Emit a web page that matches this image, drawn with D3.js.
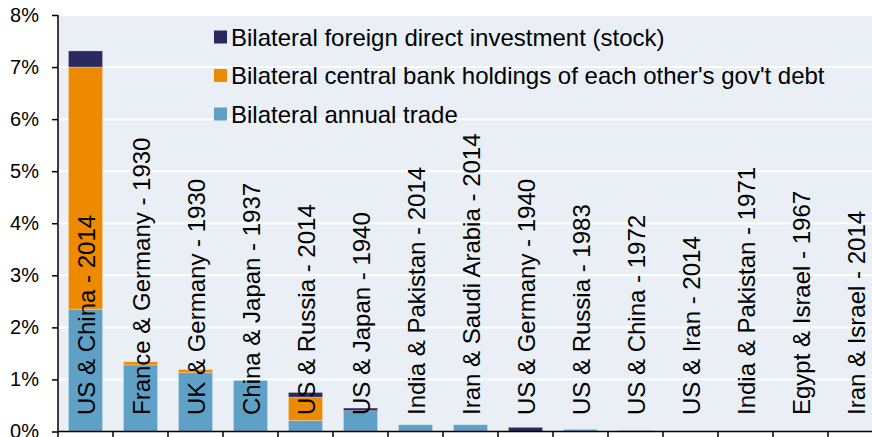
<!DOCTYPE html>
<html><head><meta charset="utf-8">
<script src="https://cdn.jsdelivr.net/npm/d3@7/dist/d3.min.js"></script>
<style>body{margin:0;background:#fff}svg{display:block;font-family:"Liberation Sans",Arial,sans-serif}</style>
</head><body><svg id="c" width="872" height="437"></svg>
<script>
const categories = ["US & China - 2014","France & Germany - 1930","UK & Germany - 1930","China & Japan - 1937","US & Russia - 2014","US & Japan - 1940","India & Pakistan - 2014","Iran & Saudi Arabia - 2014","US & Germany - 1940","US & Russia - 1983","US & China - 1972","US & Iran - 2014","India & Pakistan - 1971","Egypt & Israel - 1967","Iran & Israel - 2014"];
const trade = [2.35,1.28,1.13,0.98,0.21,0.40,0.13,0.13,0.00,0.04,0.00,0,0,0,0];
const debt  = [4.65,0.06,0.06,0.00,0.45,0.00,0.00,0.00,0.00,0.00,0.005,0,0,0,0];
const fdi   = [0.31,0.00,0.00,0.00,0.09,0.05,0.00,0.00,0.08,0.00,0.01,0,0,0,0];
const seriesNames = ["Bilateral annual trade","Bilateral central bank holdings of each other's gov't debt","Bilateral foreign direct investment (stock)"];
const colors = ["#5FA0C6","#EE8A00","#2B2960"];
const yTicks = [0,1,2,3,4,5,6,7,8];

const svg = d3.select("#c");
const x = d3.scaleBand().domain(categories).range([58,883]).paddingInner(0.38).paddingOuter(0.19);
const y = d3.scaleLinear().domain([0,8]).range([431.5,15]);

svg.append("rect").attr("x",58).attr("y",15).attr("width",872-58).attr("height",431.5-15).attr("fill","#E9EFF4");

svg.append("g").selectAll("line").data(yTicks.filter(d=>d>0)).join("line")
  .attr("x1",58).attr("x2",872).attr("y1",d=>y(d)).attr("y2",d=>y(d))
  .attr("stroke","#fff").attr("stroke-width",2);

const rows = categories.map((c,i)=>({c, v:[trade[i],debt[i],fdi[i]]}));
const stacked = d3.stack().keys([0,1,2]).value((d,k)=>d.v[k])(rows);
svg.append("g").selectAll("g").data(stacked).join("g").attr("fill",(d,i)=>colors[i])
  .selectAll("rect").data(d=>d).join("rect")
  .attr("x",d=>x(d.data.c)).attr("width",x.bandwidth())
  .attr("y",d=>y(d[1])).attr("height",d=>Math.max(0,y(d[0])-y(d[1])))
  .attr("stroke","rgba(255,255,255,0.35)").attr("stroke-width",0.8);

// labels
svg.append("g").selectAll("text").data(categories).join("text")
  .attr("transform",d=>`translate(${x(d)+x.bandwidth()/2+1},415) rotate(-90)`)
  .attr("dy","0.36em").attr("font-size",24).attr("fill","#000").text(d=>d);

// y axis
const ya = svg.append("g").attr("transform","translate(58,0)")
  .call(d3.axisLeft(y).tickValues(yTicks).tickFormat(d=>d+"%").tickSize(6).tickPadding(13));
ya.select(".domain").attr("stroke","#000").attr("stroke-width",1.5).attr("d","M0,15V431.5");
ya.selectAll(".tick line").attr("stroke","#000").attr("stroke-width",1.5);
ya.selectAll("text").attr("font-size",20).attr("fill","#000").attr("font-family","Liberation Sans, Arial, sans-serif");

// x axis
const bounds = categories.map(c=>x(c)-x.step()*x.paddingInner()/2);
const xg = svg.append("g");
xg.append("line").attr("x1",58).attr("x2",872).attr("y1",431.5).attr("y2",431.5).attr("stroke","#000").attr("stroke-width",1.5);
xg.selectAll(".t").data(bounds).join("line").attr("class","t")
  .attr("x1",d=>d).attr("x2",d=>d).attr("y1",431.5).attr("y2",437).attr("stroke","#000").attr("stroke-width",1.5);

// legend
const leg = svg.append("g");
const legOrder = [2,1,0];
legOrder.forEach((k,i)=>{
  const cy = 37 + i*38.5;
  leg.append("rect").attr("x",214).attr("y",cy-6.5).attr("width",13).attr("height",13).attr("fill",colors[k]);
  leg.append("text").attr("x",231).attr("y",cy).attr("dy","0.36em").attr("font-size",24).attr("fill","#000").text(seriesNames[k]);
});
</script></body></html>
